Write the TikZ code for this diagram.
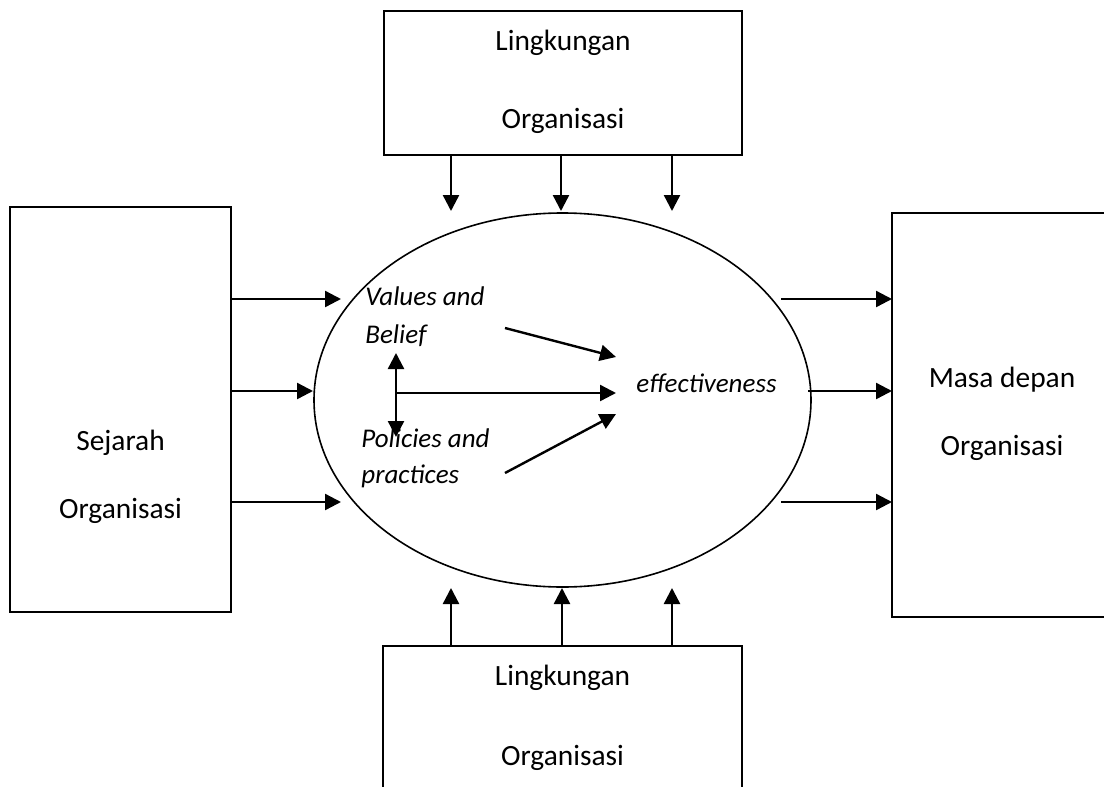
\documentclass[tikz,border=0pt]{standalone}
\usepackage{fontspec}
\setmainfont{Carlito}
\usetikzlibrary{arrows.meta,shapes.geometric}
\begin{document}
\begin{tikzpicture}[x=0.5pt,y=-0.5pt,
  box/.style={draw,line width=1.1pt,inner sep=0pt,outer sep=0pt},
  arr/.style={line width=1.2pt,-{Triangle[length=8pt,width=8pt]}},
  darr/.style={line width=1.2pt,{Triangle[length=8pt,width=8pt]}-{Triangle[length=8pt,width=8pt]}},
  lbl/.style={font=\fontsize{14.7}{17}\selectfont,anchor=base,inner sep=0pt},
  ital/.style={font=\fontsize{13.5}{15}\selectfont\itshape,anchor=base west,inner sep=0pt}]
\useasboundingbox (0,0) rectangle (1104,787);
\clip (0,0) rectangle (1104,787);
% boxes
\node[box,minimum width=179pt,minimum height=72pt] (top) at (563,83) {};
\node[box,minimum width=179.5pt,minimum height=72pt] (bot) at (562.5,718) {};
\node[box,minimum width=110.5pt,minimum height=202.5pt] (sej) at (120.5,409.5) {};
\node[box,minimum width=110pt,minimum height=202pt] (mas) at (1002,415) {};
\node[draw,ellipse,line width=0.8pt,inner sep=0pt,minimum width=248.5pt,minimum height=187pt] (ell) at (562.5,400) {};
% labels
\node[lbl] (t1) at (563,50) {Lingkungan};
\node[lbl] (t2) at (563,128) {Organisasi};
\node[lbl] (b1) at (562.5,685) {Lingkungan};
\node[lbl] (b2) at (562.5,765) {Organisasi};
\node[lbl] (s1) at (120.5,450) {Sejarah};
\node[lbl] (s2) at (120.5,518) {Organisasi};
\node[lbl] (m1) at (1002,387) {Masa depan};
\node[lbl] (m2) at (1002,455) {Organisasi};
\node[ital] (v1) at (365,305) {Values and};
\node[ital] (v2) at (365,343) {Belief};
\node[ital] (p1) at (361,447) {Policies and};
\node[ital] (p2) at (361,483) {practices};
\node[ital] (eff) at (636,392) {effectiveness};
% coordinates
\coordinate (ta1) at (451,211);
\coordinate (ta2) at (561,211);
\coordinate (ta3) at (672,211);
\coordinate (ba1) at (451,588);
\coordinate (ba2) at (562,588);
\coordinate (ba3) at (672,588);
\coordinate (la1) at (341,299);
\coordinate (la2) at (313,391);
\coordinate (la3) at (341,502);
\coordinate (ra1) at (781,299);
\coordinate (ra2) at (808,391);
\coordinate (ra3) at (781,502);
\coordinate (vx) at (396,393);
\coordinate (vt) at (396,353);
\coordinate (vb) at (396,437);
\coordinate (hx) at (616,393);
\coordinate (d1s) at (505,328);
\coordinate (d1e) at (616,357);
\coordinate (d2s) at (505,473);
\coordinate (d2e) at (616,414);
% outer arrows
\foreach \c in {ta1,ta2,ta3} \draw[arr] (top.south -| \c) -- (\c);
\foreach \c in {ba1,ba2,ba3} \draw[arr] (bot.north -| \c) -- (\c);
\foreach \c in {la1,la2,la3} \draw[arr] (sej.east |- \c) -- (\c);
\foreach \c in {ra1,ra2,ra3} \draw[arr] (\c) -- (\c -| mas.west);
% inner arrows
\draw[darr] (vt) -- (vb);
\draw[arr] (vx) -- (hx);
\draw[arr] (d1s) -- (d1e);
\draw[arr] (d2s) -- (d2e);
\end{tikzpicture}
\end{document}
